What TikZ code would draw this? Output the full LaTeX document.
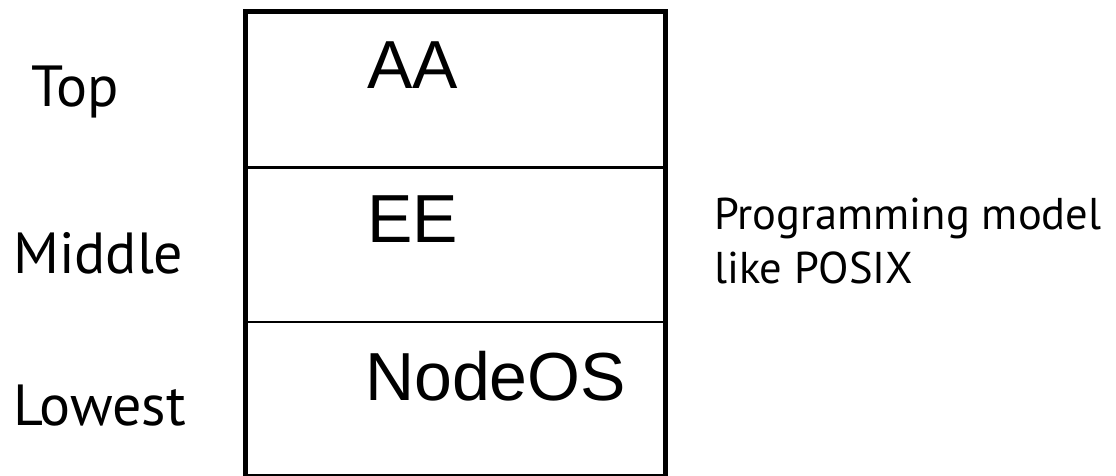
\documentclass[tikz,border=0pt]{standalone}
\usepackage{fontspec}
\setmainfont{Liberation Sans}
\newfontfamily\labelfont{PT Sans}
\begin{document}
\begin{tikzpicture}[x=1pt,y=-1pt,
  layertext/.style={anchor=base west,inner sep=0pt,font=\fontsize{68}{68}\selectfont},
  sidetext/.style={anchor=base west,inner sep=0pt,font=\labelfont\fontsize{58}{58}\selectfont},
  notetext/.style={anchor=base west,inner sep=0pt,font=\labelfont\fontsize{44.5}{44.5}\selectfont},
  outer/.style={line width=5pt},
  divider/.style={line width=2.5pt}]
\useasboundingbox (0,0) rectangle (1116,476);
% stack of layers
\draw[outer] (245,12) rectangle (665,476);
\draw[divider] (245,167.5) -- (665,167.5);
\draw[divider] (245,322) -- (665,322);
% layer names
\node[layertext] (aa) at (367,89) {AA};
\node[layertext] (ee) at (367,242) {EE};
\node[layertext] (nodeos) at (365,400) {NodeOS};
% level labels
\node[sidetext] (top) at (31,107) {Top};
\node[sidetext] (middle) at (13,273) {Middle};
\node[sidetext] (lowest) at (13,425) {Lowest};
% note beside the middle layer
\node[notetext] (note1) at (714,229) {Programming model};
\node[notetext] (note2) at (714,283) {like POSIX};
\end{tikzpicture}
\end{document}
